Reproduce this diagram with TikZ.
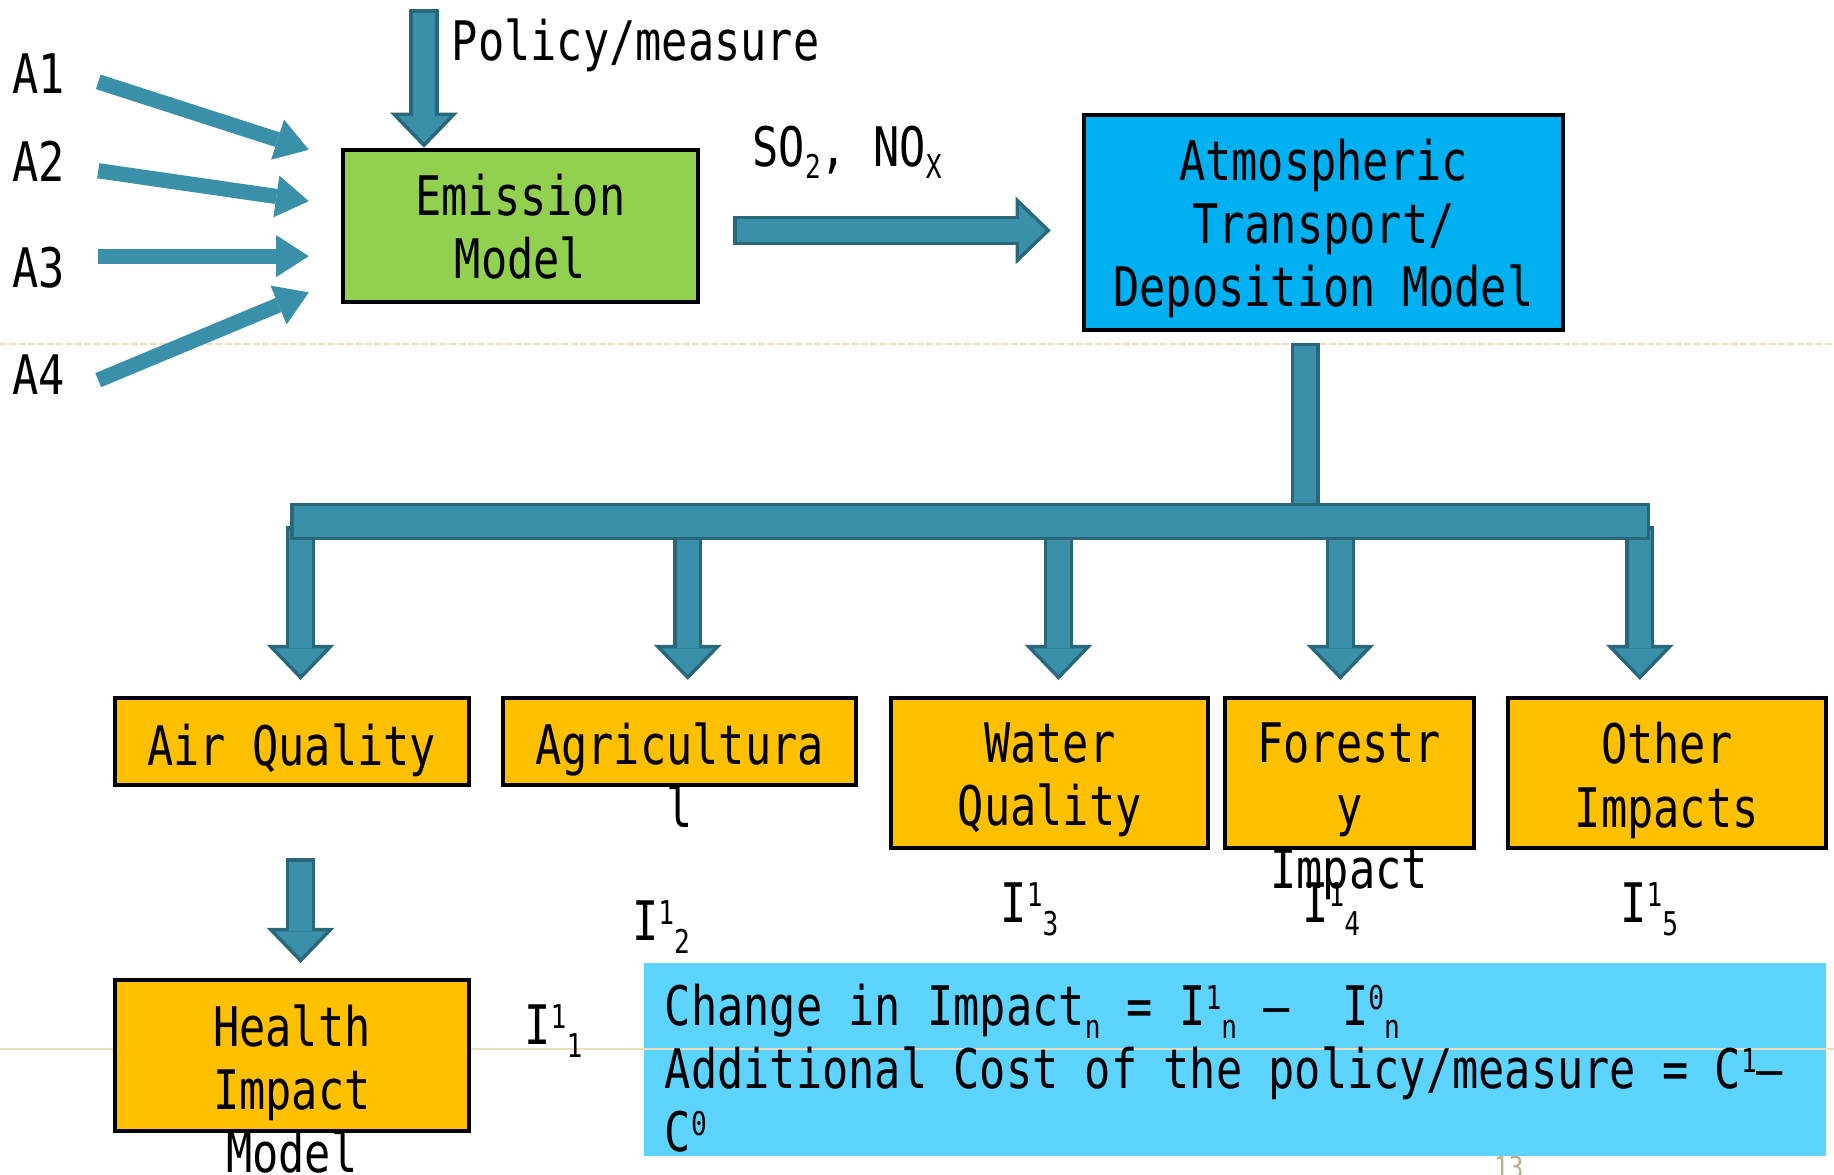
\documentclass[tikz,border=0pt]{standalone}
\usepackage{fontspec}
\setmainfont{DejaVu Sans Mono}[FakeStretch=0.8]
\usepackage{tikz}
\usetikzlibrary{arrows.meta,calc}

\definecolor{arrfill}{RGB}{58,144,168}
\definecolor{arrline}{RGB}{40,104,122}
\definecolor{emisgreen}{RGB}{146,208,80}
\definecolor{atmblue}{RGB}{0,176,240}
\definecolor{impactorange}{RGB}{255,192,0}
\definecolor{noteblue}{RGB}{93,211,255}
\definecolor{guideline}{RGB}{236,224,186}
\definecolor{pagegrey}{RGB}{190,175,140}

\newcommand{\bigtxt}{\fontsize{23.3}{27}\selectfont}
\newcommand{\upidx}[1]{\raisebox{7pt}{\fontsize{14}{14}\selectfont #1}}
\newcommand{\dnidx}[1]{\raisebox{-5.5pt}{\fontsize{14}{14}\selectfont #1}}

\tikzset{
  box/.style={draw=black, line width=1.7pt, inner sep=0pt},
  boxtext/.style={anchor=north, align=center, inner sep=0pt, font=\bigtxt,
    execute at begin node={\rule{0pt}{18.5pt}}},
  plain/.style={anchor=base west, inner sep=0pt, font=\bigtxt},
  guide/.style={draw=guideline, line width=0.6pt},
  thinarrow/.style={draw=arrfill, line width=6.5pt,
    -{Triangle[width=18pt,length=14pt,line width=0pt]}},
  fat/.style={draw=arrfill, line width=9.5pt, shorten <=1.5pt, shorten >=2.2pt,
    -{Triangle[width=21.9pt,length=11.3pt,line width=0pt]},
    preaction={draw=arrline, line width=12.5pt, shorten <=0pt, shorten >=0pt,
      -{Triangle[width=29pt,length=15pt,line width=0pt]}}},
  vbar/.style={draw=arrfill, line width=9.5pt, shorten <=1.5pt,
    preaction={draw=arrline, line width=12.5pt, shorten <=0pt}},
  hbar/.style={draw=arrfill, line width=13pt, shorten <=1.5pt, shorten >=1.5pt,
    preaction={draw=arrline, line width=16pt, shorten <=0pt, shorten >=0pt}}
}

\begin{document}
\begin{tikzpicture}[x=0.5pt,y=-0.5pt]
\useasboundingbox (0,0) rectangle (1568,1004);
\fill[white] (0,0) rectangle (1568,1004);

%%% NOTE AND GUIDES
\node[fill=noteblue, minimum width=505pt, minimum height=82.5pt, inner sep=0pt] (note) at (1056,905.5) {};
\draw[guide, dash pattern=on 3pt off 1pt] (0,294) -- (1568,294);
\draw[guide] (0,897) -- (1568,897);

%%% TOP ROW
\node[box, fill=emisgreen, minimum width=152pt, minimum height=65pt] (emis) at (445,193) {};
\node[boxtext] (emis-t) at ([yshift=-11pt]emis.north) {Emission\\Model};
\node[box, fill=atmblue, minimum width=204.5pt, minimum height=92pt] (atm) at (1131.5,190) {};
\node[boxtext] (atm-t) at ([yshift=-11pt]atm.north) {Atmospheric\\Transport/\\Deposition Model};
\node[plain] (pol) at (386,52) {Policy/measure};
\node[plain] (gases) at (643,142) {SO\dnidx{2}, NO\dnidx{X}};
\foreach \n/\y in {1/80, 2/155, 3/246, 4/337}
  \node[plain] (a\n) at (10,\y) {A\n};

%%% IMPACT ROW
\node[box, fill=impactorange, minimum width=151.5pt, minimum height=37pt] (air) at (249.5,634) {};
\node[box, fill=impactorange, minimum width=151pt, minimum height=37pt] (agri) at (581,634) {};
\node[box, fill=impactorange, minimum width=135.5pt, minimum height=64pt] (water) at (897.5,661) {};
\node[box, fill=impactorange, minimum width=106.5pt, minimum height=64pt] (forest) at (1153.5,661) {};
\node[box, fill=impactorange, minimum width=136pt, minimum height=64pt] (other) at (1425,661) {};
\node[boxtext] (air-t) at ([yshift=-11pt]air.north) {Air Quality};
\node[boxtext] (agri-t) at ([yshift=-11pt]agri.north) {Agricultura\\l};
\node[boxtext] (water-t) at ([yshift=-11pt]water.north) {Water\\Quality};
\node[boxtext] (forest-t) at ([yshift=-11pt]forest.north) {Forestr\\y\\Impact};
\node[boxtext] (other-t) at ([yshift=-11pt]other.north) {Other\\Impacts};
\foreach \n/\x/\y in {1/448/893, 2/540/804, 3/855/789, 4/1113/789, 5/1385/789}
  \node[plain] (i\n) at (\x,\y) {I\upidx{1}\dnidx{\n}};

%%% HEALTH LEVEL
\node[box, fill=impactorange, minimum width=151.5pt, minimum height=64.5pt] (health) at (249.5,902.5) {};
\node[boxtext] (health-t) at ([yshift=-11pt]health.north) {Health\\Impact\\Model};
\node[boxtext, anchor=north west, align=left] (note-t) at (568,841)
  {Change in Impact\dnidx{n} = I\upidx{1}\dnidx{n} –~~I\upidx{0}\dnidx{n}\\
   Additional Cost of the policy/measure = C\upidx{1}–\\
   C\upidx{0}};
\node[anchor=north, inner sep=0pt, text=pagegrey, font=\fontsize{13}{13}\selectfont] (pgno) at (1290,988) {13};

%%% ARROWS
\foreach \n/\ty/\hy in {1/70/128, 2/146/172, 3/219/219, 4/325/250}{
  \coordinate (a\n-tail) at (84,\ty);
  \coordinate (a\n-tip) at (264,\hy);
  \draw[thinarrow] (a\n-tail) -- (a\n-tip);
}
\coordinate (pol-top) at (362.5,8);
\draw[fat] (pol-top) -- (pol-top |- emis.north);
\draw[fat] ($(emis.east)+(28,4)$) -- ($(emis.east -| atm.west)+(-27,4)$);

\coordinate (bus-top) at (1116,293);
\coordinate (bus-left) at (248,446);
\coordinate (bus-right) at (1411,446);
\foreach \x/\b in {257/air, 588/agri, 905/water, 1146/forest, 1402/other}{
  \coordinate (drop-\b) at (\x,450);
  \draw[fat] (drop-\b) -- ($(drop-\b |- \b.north)+(0,-14)$);
}
\draw[vbar] (bus-top) -- (bus-top |- bus-left);
\draw[hbar] (bus-left) -- (bus-right);
\draw[fat] ($(air.south)+(7.5,61)$) -- ($(health.north)+(7.5,-13)$);
\end{tikzpicture}
\end{document}
